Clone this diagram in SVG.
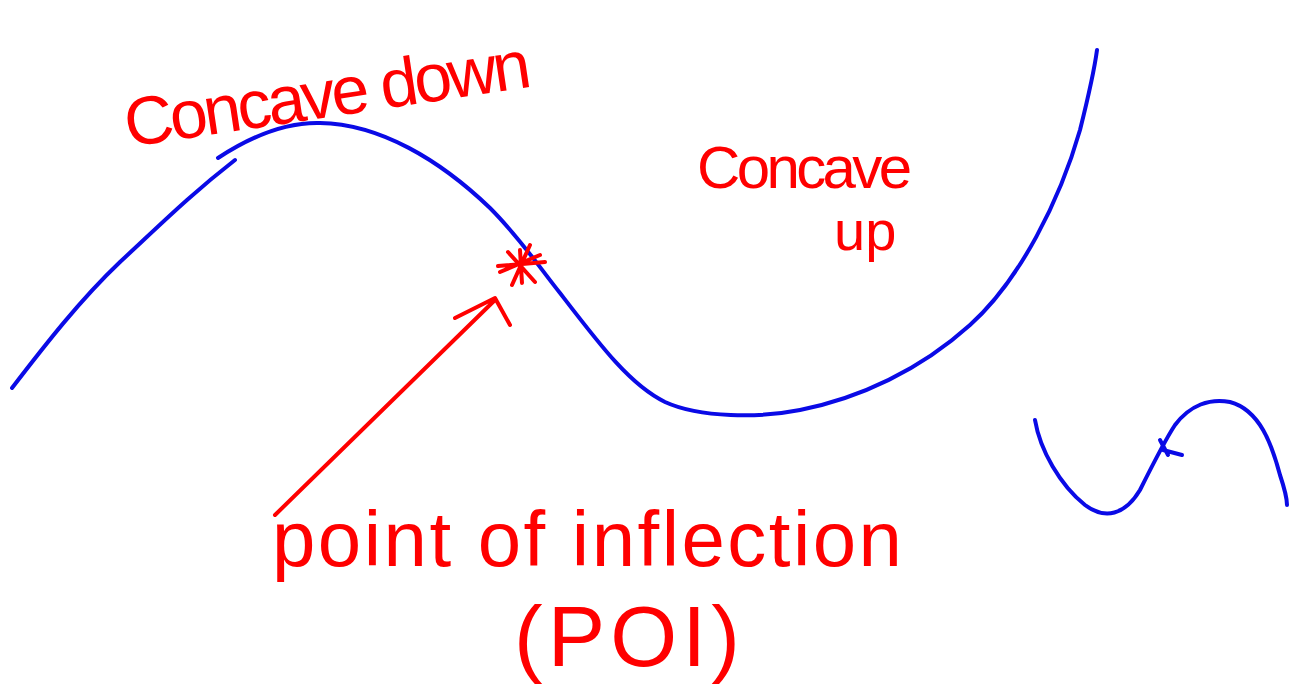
<svg xmlns="http://www.w3.org/2000/svg" width="1289" height="688" viewBox="0 0 1289 688">
<style>
.blue{fill:none;stroke:#0a0ae6;stroke-width:4;stroke-linecap:round;stroke-linejoin:round}
.red{fill:none;stroke:#f00;stroke-width:4;stroke-linecap:round;stroke-linejoin:round}
.lbl{fill:#f00;font-family:"Liberation Sans",Arial,sans-serif}
</style>
<rect width="1289" height="688" fill="#fff"/>
<g id="curves">
<path class="blue" d="M12,388 C45,345 80,300 120,262 C160,225 190,195 235,160"/>
<path class="blue" d="M218,158 C250,137 285,122 320,123 C380,124 440,160 490,208 C520,238 540,268 560,293 C600,345 630,385 665,402 C700,418 760,418 800,410 C860,398 920,370 970,325 C1020,280 1060,200 1080,130 C1090,90 1095,65 1097,50"/>
<path class="blue" d="M1035,420 C1040,450 1060,485 1085,505 C1105,520 1125,515 1140,490 C1155,460 1165,440 1175,425 C1190,405 1210,398 1230,402 C1260,410 1272,445 1280,475 C1285,490 1287,500 1287,505"/>
<path class="blue" d="M1160,440 L1168,455 M1163,450 L1182,455"/>
</g>
<g id="poi-marker">
<path class="red" d="M498,266 L545,262 M508,252 L535,282 M530,245 L512,285 M520,250 L522,283 M500,272 L540,255"/>
</g>
<g id="connectors">
<path class="red" d="M275,515 L495,300 M455,318 L495,298 L510,325"/>
</g>
<g id="label-concave-down">
<text class="lbl" x="128" y="147" font-size="68" textLength="410" transform="rotate(-8.5 128 147)">Concave down</text>
</g>
<g id="label-concave-up">
<text class="lbl" x="697" y="188" font-size="60" textLength="215">Concave</text>
<text class="lbl" x="834" y="250" font-size="56">up</text>
</g>
<g id="label-poi">
<text class="lbl" x="272" y="566" font-size="78" textLength="630">point of inflection</text>
<text class="lbl" x="514" y="666" font-size="86" textLength="226">(POI)</text>
</g>
</svg>
